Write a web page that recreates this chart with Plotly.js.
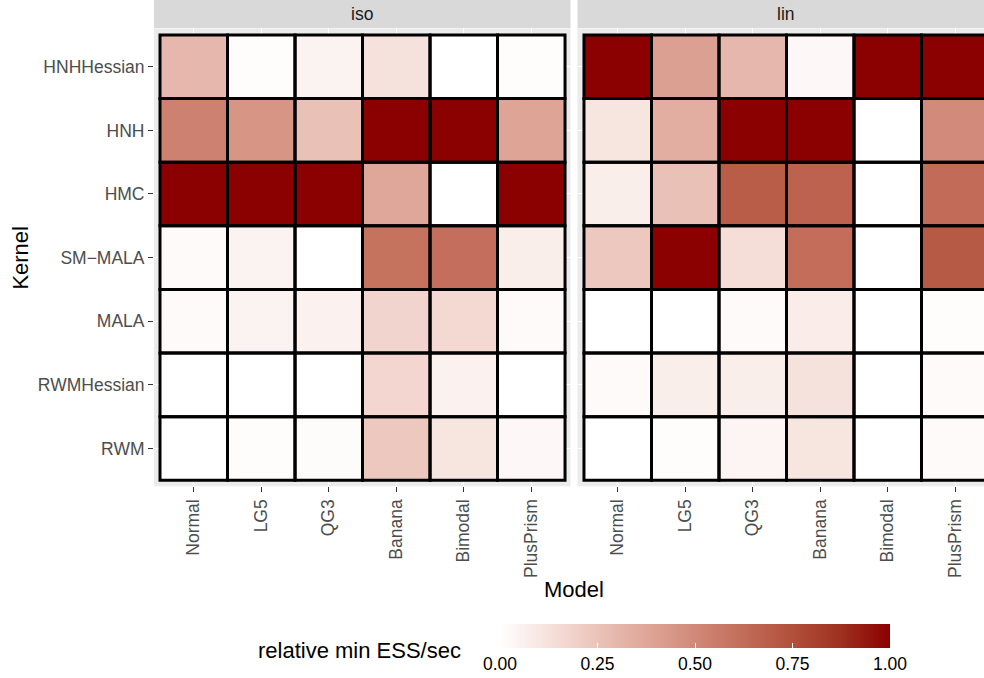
<!DOCTYPE html>
<html>
<head>
<meta charset="utf-8">
<script src="https://cdn.plot.ly/plotly-3.0.1.min.js"></script>
<style>html,body{margin:0;padding:0;background:#fff;} #chart{width:984px;height:678px;}</style>
</head>
<body>
<div id="chart"></div>
<script>
// ---- data ----
const models = ['Normal', 'LG5', 'QG3', 'Banana', 'Bimodal', 'PlusPrism'];
const kernels = ['HNHHessian', 'HNH', 'HMC', 'SM\u2212MALA', 'MALA', 'RWMHessian', 'RWM'];
const facets = ['iso', 'lin'];
// rows follow kernels (top to bottom), columns follow models
const isoValues = [
  [0.30, 0.01, 0.05, 0.12, 0.00, 0.01],
  [0.53, 0.45, 0.26, 1.00, 1.00, 0.38],
  [1.00, 1.00, 1.00, 0.37, 0.00, 1.00],
  [0.02, 0.05, 0.00, 0.60, 0.61, 0.07],
  [0.02, 0.05, 0.06, 0.18, 0.16, 0.02],
  [0.00, 0.00, 0.00, 0.17, 0.06, 0.00],
  [0.00, 0.01, 0.015, 0.23, 0.11, 0.03]
];
const linValues = [
  [1.00, 0.40, 0.30, 0.03, 1.00, 1.00],
  [0.11, 0.34, 1.00, 1.00, 0.00, 0.49],
  [0.07, 0.26, 0.69, 0.67, 0.00, 0.63],
  [0.23, 1.00, 0.14, 0.62, 0.00, 0.71],
  [0.00, 0.00, 0.02, 0.08, 0.00, 0.01],
  [0.02, 0.07, 0.07, 0.12, 0.00, 0.02],
  [0.00, 0.01, 0.04, 0.11, 0.00, 0.02]
];
const colorbarTicks = [0, 0.25, 0.5, 0.75, 1];
const colorbarLabels = ['0.00', '0.25', '0.50', '0.75', '1.00'];

// ---- styling ----
const W = 984, H = 678;
const px = v => v / W;
const py = v => 1 - v / H;
const FONT = 'Liberation Sans, Arial, sans-serif';

// white -> darkred interpolated in Lab (as ggplot does)
const colorscale = [
  [0, '#FFFFFF'], [0.125, '#F6E1DC'], [0.25, '#EBC3B9'], [0.375, '#DFA698'],
  [0.5, '#D18978'], [0.625, '#C26C59'], [0.75, '#B1503B'], [0.875, '#9E301F'], [1, '#8B0000']
];

const traces = [
  {type: 'heatmap', x: models, y: kernels, z: isoValues, xaxis: 'x', yaxis: 'y', coloraxis: 'coloraxis', hoverinfo: 'skip'},
  {type: 'heatmap', x: models, y: kernels, z: linValues, xaxis: 'x2', yaxis: 'y', coloraxis: 'coloraxis', hoverinfo: 'skip'}
];

const tickFont = {family: FONT, size: 17.5, color: '#4D4D4D'};
const baseX = {
  type: 'category', categoryarray: models, categoryorder: 'array',
  ticks: 'outside', ticklen: 5, tickwidth: 1, tickcolor: '#333333',
  tickangle: -90, tickfont: tickFont,
  showgrid: true, gridcolor: '#FFFFFF', gridwidth: 1, zeroline: false, showline: false,
  anchor: 'y', fixedrange: true
};

const shapes = [];
// strips
shapes.push({type: 'rect', xref: 'paper', yref: 'paper', x0: px(154), x1: px(570.5), y0: py(28), y1: 1, fillcolor: '#D9D9D9', line: {width: 0}, layer: 'below'});
shapes.push({type: 'rect', xref: 'paper', yref: 'paper', x0: px(577.5), x1: 1, y0: py(28), y1: 1, fillcolor: '#D9D9D9', line: {width: 0}, layer: 'below'});
// tile borders
['x', 'x2'].forEach(xr => {
  kernels.forEach((k, i) => {
    models.forEach((m, j) => {
      shapes.push({type: 'rect', xref: xr, yref: 'y', x0: j - 0.5, x1: j + 0.5, y0: i - 0.5, y1: i + 0.5,
        line: {color: '#000000', width: 3}, fillcolor: 'rgba(0,0,0,0)', layer: 'above'});
    });
  });
});

const titleFont = {family: FONT, size: 22, color: '#000000'};
const stripFont = {family: FONT, size: 17.5, color: '#1A1A1A'};
const annotations = [
  {text: facets[0], xref: 'paper', yref: 'paper', x: px(362), y: py(14), xanchor: 'center', yanchor: 'middle', showarrow: false, font: stripFont},
  {text: facets[1], xref: 'paper', yref: 'paper', x: px(786), y: py(14), xanchor: 'center', yanchor: 'middle', showarrow: false, font: stripFont},
  {text: 'Kernel', xref: 'paper', yref: 'paper', x: px(21), y: py(258), xanchor: 'center', yanchor: 'middle', textangle: -90, showarrow: false, font: titleFont},
  {text: 'Model', xref: 'paper', yref: 'paper', x: px(574), y: py(590), xanchor: 'center', yanchor: 'middle', showarrow: false, font: titleFont},
  {text: 'relative min ESS/sec', xref: 'paper', yref: 'paper', x: px(463), y: py(651), xanchor: 'right', yanchor: 'middle', showarrow: false,
    font: {family: FONT, size: 22, color: '#000000'}}
];

const layout = {
  width: W, height: H,
  margin: {l: 0, r: 0, t: 0, b: 0, pad: 0},
  paper_bgcolor: '#FFFFFF', plot_bgcolor: '#EBEBEB',
  showlegend: false,
  xaxis: Object.assign({}, baseX, {domain: [px(154), px(570.5)], range: [-0.589, 5.581]}),
  xaxis2: Object.assign({}, baseX, {domain: [px(577.5), 1], range: [-0.596, 5.426]}),
  yaxis: {
    type: 'category', categoryarray: kernels, categoryorder: 'array',
    domain: [py(487), py(28.5)], range: [6.594, -0.602],
    ticks: 'outside', ticklen: 5, tickwidth: 1, tickcolor: '#333333', tickfont: tickFont,
    showgrid: true, gridcolor: '#FFFFFF', gridwidth: 1, zeroline: false, showline: false,
    anchor: 'x', fixedrange: true
  },
  coloraxis: {
    colorscale: colorscale, cmin: 0, cmax: 1, showscale: true,
    colorbar: {
      orientation: 'h', x: px(695), xanchor: 'center', y: py(624), yanchor: 'top',
      lenmode: 'pixels', len: 390, thicknessmode: 'pixels', thickness: 24,
      xpad: 0, ypad: 0, outlinewidth: 0,
      tickmode: 'array', tickvals: colorbarTicks, ticktext: colorbarLabels,
      ticks: 'inside', ticklen: 5, tickwidth: 1, tickcolor: '#FFFFFF',
      tickfont: {family: FONT, size: 17.5, color: '#000000'}
    }
  },
  shapes: shapes,
  annotations: annotations
};

Plotly.newPlot('chart', traces, layout, {staticPlot: true, displayModeBar: false});
</script>
</body>
</html>
